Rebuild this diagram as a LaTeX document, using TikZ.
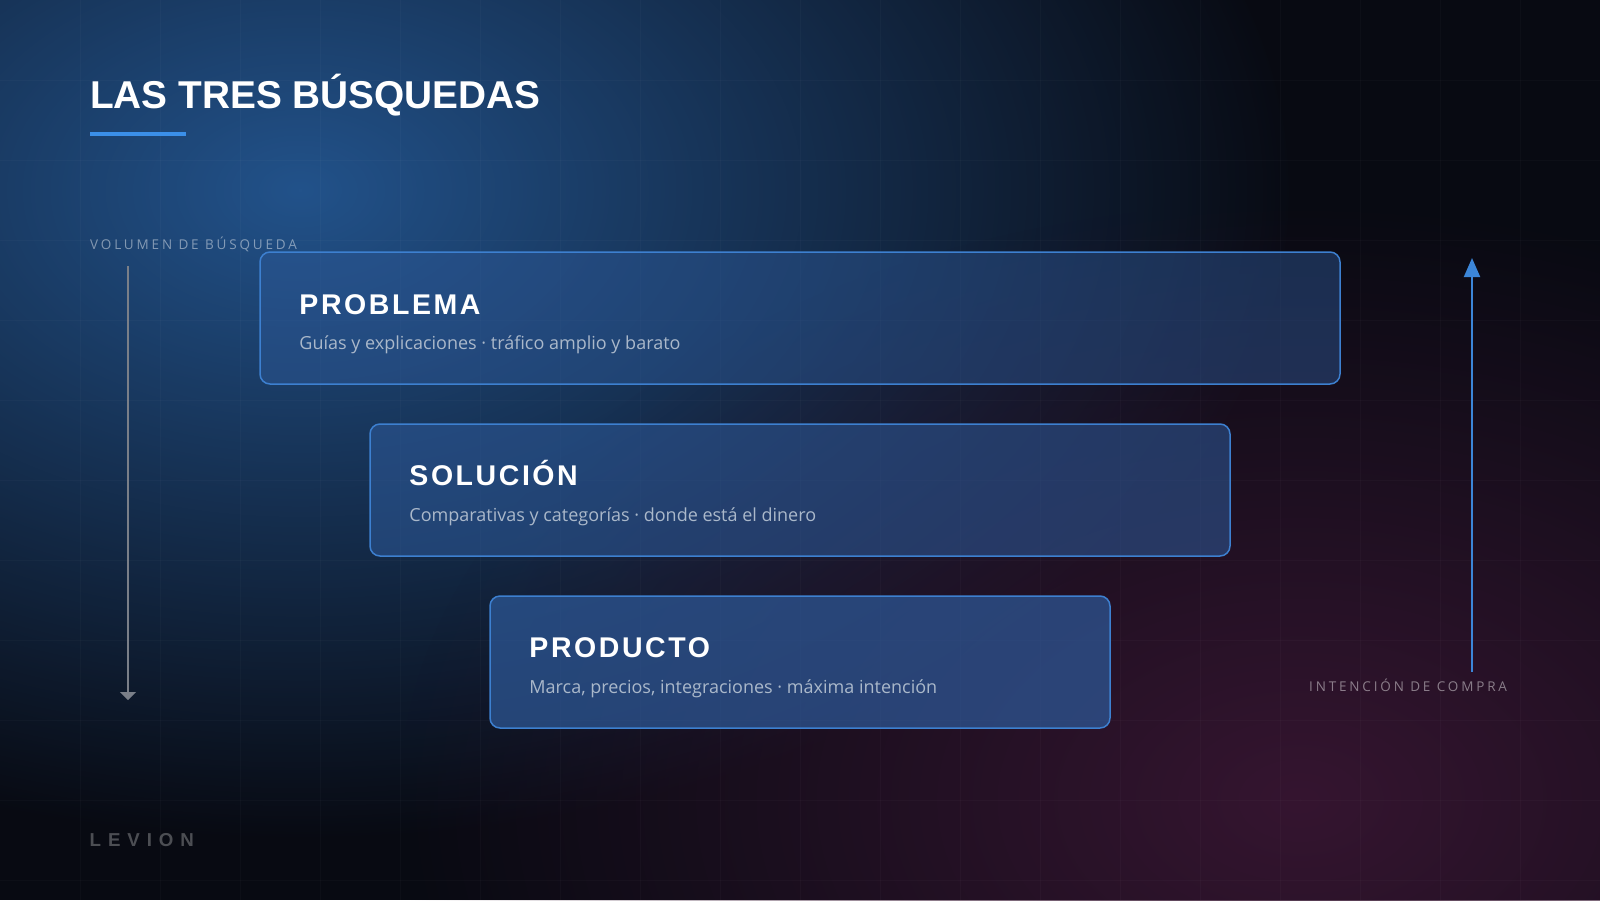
\documentclass[tikz,border=0pt]{standalone}
\usepackage{fontspec}
\setmainfont{Open Sans}
\newfontfamily\headfont{Liberation Sans}
\newfontfamily\stagefont[LetterSpace=9]{Liberation Sans}
\newfontfamily\labelfont[LetterSpace=21]{Open Sans}
\newfontfamily\brandfont[LetterSpace=37]{Liberation Sans}
\usetikzlibrary{positioning, arrows.meta, fadings}

\definecolor{bgbase}{HTML}{080A12}
\definecolor{glowblue}{HTML}{22528A}
\definecolor{glowred}{HTML}{351530}
\definecolor{accent}{HTML}{3B8FE8}
\definecolor{boxedge}{HTML}{3D80D0}
\definecolor{boxfill}{HTML}{2E5A9A}
\definecolor{subtext}{HTML}{AAB8CA}
\definecolor{axisgrey}{HTML}{7A7F88}
\definecolor{axisblue}{HTML}{3C86D8}

\tikzfading[name=glowfade, inner color=transparent!0, outer color=transparent!100]

\begin{document}
\begin{tikzpicture}[x=1pt, y=-1pt,
    stage/.style={draw=boxedge, line width=1.5pt, rounded corners=10pt, fill=boxfill, minimum height=132pt, inner sep=0pt},
    stagetitle/.style={anchor=base west, inner sep=0pt, text=white, font=\stagefont\bfseries\fontsize{28.5}{30}\selectfont},
    stagetext/.style={anchor=base west, inner sep=0pt, text=subtext, font=\fontsize{18}{20}\selectfont},
    axislabel/.style={anchor=base west, inner sep=0pt, text=white, text opacity=0.45, font=\labelfont\fontsize{13.5}{16}\selectfont},
    gridline/.style={white, opacity=0.025, line width=1pt}]
    \useasboundingbox (0,0) rectangle (1600,900);
    % background
    \fill[bgbase] (0,0) rectangle (1600,900);
    \fill[glowblue, path fading=glowfade] (300,190) ellipse [x radius=1000, y radius=650];
    \fill[glowred, path fading=glowfade] (1300,800) ellipse [x radius=900, y radius=600];
    \foreach \gx in {80,160,...,1520} \draw[gridline] (\gx,0) -- (\gx,900);
    \foreach \gy in {80,160,...,880} \draw[gridline] (0,\gy) -- (1600,\gy);

    % heading
    \draw (90,108) node[anchor=base west, inner sep=0pt, text=white, font=\headfont\bfseries\fontsize{38.8}{40}\selectfont] (heading) {LAS TRES BÚSQUEDAS};
    \fill[accent] (90,132) rectangle (186,136);

    % the three stages
    \draw (800,318) node[stage, minimum width=1080pt, fill opacity=0.45] (problema) {};
    \draw (800,490) node[stage, minimum width=860pt, fill opacity=0.55] (solucion) {};
    \draw (800,662) node[stage, minimum width=620pt, fill opacity=0.7] (producto) {};

    \node[stagetitle] (problema-t) at ([xshift=40pt, yshift=-63pt]problema.north west) {PROBLEMA};
    \node[stagetext] (problema-s) at ([yshift=-35pt]problema-t.base west) {Guías y explicaciones · tráfico amplio y barato};
    \node[stagetitle] (solucion-t) at ([xshift=40pt, yshift=-62pt]solucion.north west) {SOLUCIÓN};
    \node[stagetext] (solucion-s) at ([yshift=-36pt]solucion-t.base west) {Comparativas y categorías · donde está el dinero};
    \node[stagetitle] (producto-t) at ([xshift=40pt, yshift=-62pt]producto.north west) {PRODUCTO};
    \node[stagetext] (producto-s) at ([yshift=-36pt]producto-t.base west) {Marca, precios, integraciones · máxima intención};

    % axes
    \node[axislabel] (volumen) at (90,249.5) {VOLUMEN DE BÚSQUEDA};
    \coordinate (voltop) at (128,266);
    \coordinate (volbot) at (128,700);
    \draw[axisgrey, line width=1.5pt, -{Triangle[width=16pt, length=8pt]}] (voltop) -- (volbot);

    \node[axislabel] (intencion) at (1309,691) {INTENCIÓN DE COMPRA};
    \coordinate (intbot) at (1472,672);
    \coordinate (inttop) at (1472,258);
    \draw[axisblue, line width=2pt, -{Triangle[width=16pt, length=19pt]}] (intbot) -- (inttop);

    % brand
    \node[anchor=base west, inner sep=0pt, text=white, text opacity=0.28, font=\brandfont\bfseries\fontsize{18.7}{20}\selectfont] (brand) at (89.5,846) {LEVION};
\end{tikzpicture}
\end{document}
